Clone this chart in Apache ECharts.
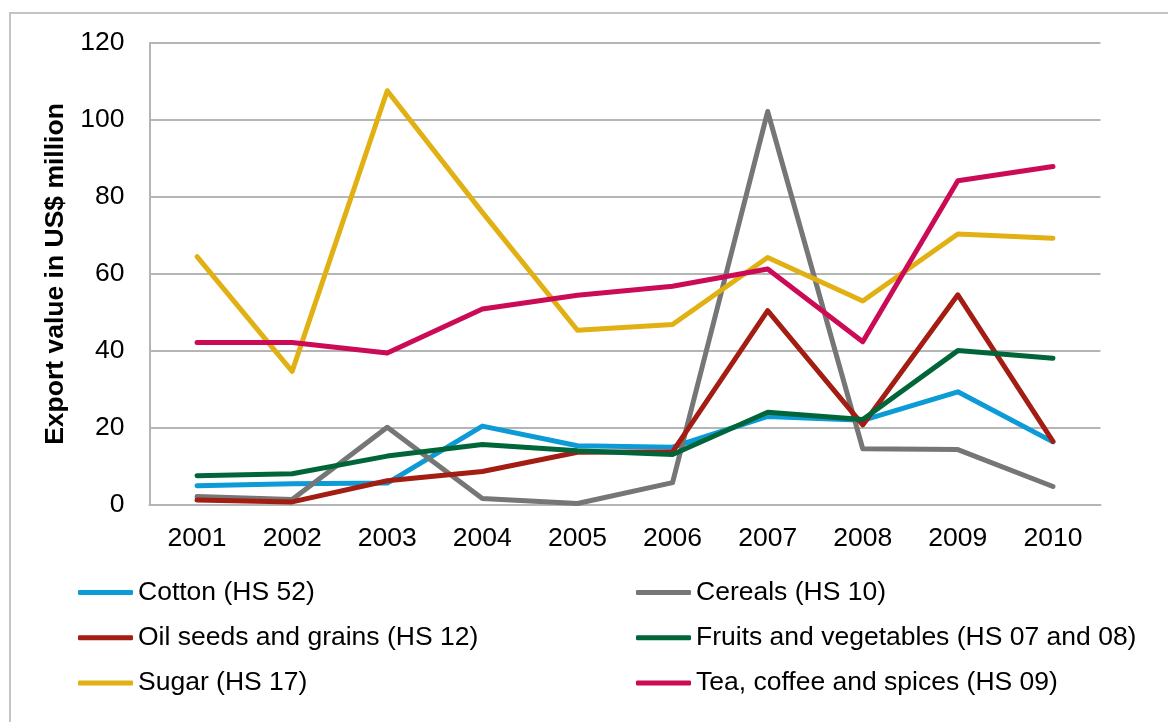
<!DOCTYPE html>
<html>
<head>
<meta charset="utf-8">
<script src="https://cdn.jsdelivr.net/npm/echarts@6/dist/echarts.min.js"></script>
<style>
  html, body { margin: 0; padding: 0; background: #fff; }
  #chart { width: 1168px; height: 722px; }
</style>
</head>
<body>
<div id="chart"></div>
<script>
// Export values by year, US$ million
const years = ['2001', '2002', '2003', '2004', '2005', '2006', '2007', '2008', '2009', '2010'];
const yTicks = [0, 20, 40, 60, 80, 100, 120];

const cotton    = [5.0, 5.5, 5.7, 20.5, 15.4, 15.0, 23.0, 22.0, 29.4, 16.4];
const cereals   = [2.2, 1.4, 20.2, 1.7, 0.4, 5.8, 102.2, 14.6, 14.4, 4.8];
const oilSeeds  = [1.3, 0.8, 6.3, 8.7, 13.7, 13.8, 50.5, 20.8, 54.6, 16.5];
const fruitsVeg = [7.6, 8.1, 12.7, 15.7, 14.1, 13.1, 24.1, 22.2, 40.1, 38.1];
const sugar     = [64.5, 34.7, 107.6, 76.0, 45.4, 46.9, 64.3, 53.0, 70.4, 69.3];
const teaCoffee = [42.2, 42.2, 39.5, 50.9, 54.5, 56.8, 61.3, 42.4, 84.2, 87.9];

const seriesDefs = [
  { name: 'Cotton (HS 52)', data: cotton, color: '#0c9bd7' },
  { name: 'Cereals (HS 10)', data: cereals, color: '#767676' },
  { name: 'Oil seeds and grains (HS 12)', data: oilSeeds, color: '#a31d13' },
  { name: 'Fruits and vegetables (HS 07 and 08)', data: fruitsVeg, color: '#00663a' },
  { name: 'Sugar (HS 17)', data: sugar, color: '#e1b013' },
  { name: 'Tea, coffee and spices (HS 09)', data: teaCoffee, color: '#cc0b56' }
];

const FONT = '"Liberation Sans", Arial, Helvetica, sans-serif';
const FS = 26.5;

const legendCommon = {
  orient: 'vertical',
  icon: 'roundRect',
  padding: 0,
  itemWidth: 55,
  itemHeight: 5,
  itemGap: 18.3,
  textStyle: { fontFamily: FONT, fontSize: FS, color: '#000', lineHeight: 27 },
  top: 579
};

const chart = echarts.init(document.getElementById('chart'), null, { renderer: 'canvas' });
chart.setOption({
  animation: false,
  backgroundColor: '#ffffff',
  graphic: [{
    type: 'rect',
    shape: { x: 10, y: 13, width: 1200, height: 800 },
    style: { fill: 'none', stroke: '#c4c4c4', lineWidth: 2 },
    silent: true,
    z: -1
  }],
  grid: { left: 149.5, right: 67.5, top: 43, bottom: 217 },
  legend: [
    Object.assign({ left: 78, data: [seriesDefs[0].name, seriesDefs[2].name, seriesDefs[4].name] }, legendCommon),
    Object.assign({ left: 636, data: [seriesDefs[1].name, seriesDefs[3].name, seriesDefs[5].name] }, legendCommon)
  ],
  xAxis: {
    type: 'category',
    data: years,
    boundaryGap: true,
    axisLine: { show: true, lineStyle: { color: '#b5b5b5', width: 2 } },
    axisTick: { show: false },
    axisLabel: { fontFamily: FONT, fontSize: FS, color: '#000', margin: 20 },
    splitLine: { show: false }
  },
  yAxis: {
    type: 'value',
    min: yTicks[0],
    max: yTicks[yTicks.length - 1],
    interval: yTicks[1] - yTicks[0],
    name: 'Export value in US$ million',
    nameLocation: 'middle',
    nameRotate: 90,
    nameGap: 54,
    nameTextStyle: { fontFamily: FONT, fontSize: FS, fontWeight: 'bold', color: '#000' },
    axisLine: { show: true, lineStyle: { color: '#b5b5b5', width: 2 } },
    axisTick: { show: false },
    axisLabel: { fontFamily: FONT, fontSize: FS, color: '#000', margin: 25 },
    splitLine: { show: true, lineStyle: { color: '#b5b5b5', width: 2 } }
  },
  series: seriesDefs.map(s => ({
    name: s.name,
    type: 'line',
    data: s.data,
    symbol: 'none',
    smooth: false,
    color: s.color,
    lineStyle: { color: s.color, width: 5, cap: 'round', join: 'round' },
    itemStyle: { color: s.color }
  }))
});
</script>
</body>
</html>
